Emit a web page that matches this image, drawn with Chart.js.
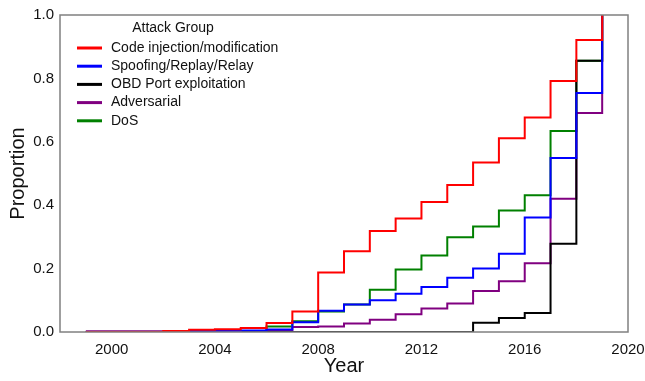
<!DOCTYPE html>
<html>
<head>
<meta charset="utf-8">
<script src="https://cdn.jsdelivr.net/npm/chart.js"></script>
<style>
  body { margin: 0; background: #fff; }
  #wrap { width: 645px; height: 381px; }
</style>
</head>
<body>
<div id="wrap"><canvas id="myChart"></canvas></div>
<script>
// cumulative proportion of attacks per group, by year
var years = [1999, 2000, 2001, 2002, 2003, 2004, 2005, 2006, 2007, 2008, 2009,
  2010, 2011, 2012, 2013, 2014, 2015, 2016, 2017, 2018, 2019];

var codeInjection = [0, 0, 0, 0.003, 0.007, 0.009, 0.013, 0.028, 0.065, 0.188, 0.255,
  0.319, 0.358, 0.410, 0.464, 0.535, 0.611, 0.677, 0.792, 0.921, 1.0];
var spoofing = [0, 0, 0, 0, 0.003, 0.003, 0.005, 0.008, 0.031, 0.067, 0.087,
  0.100, 0.121, 0.142, 0.171, 0.200, 0.247, 0.361, 0.549, 0.754, 1.0];
var obdPort = [0, 0, 0, 0, 0, 0, 0, 0, 0, 0, 0,
  0, 0, 0, 0, 0.029, 0.044, 0.060, 0.278, 0.856, 1.0];
var adversarial = [0.002, 0.002, 0.002, 0.002, 0.002, 0.002, 0.002, 0.005, 0.016, 0.017, 0.027,
  0.039, 0.056, 0.074, 0.090, 0.129, 0.160, 0.217, 0.420, 0.691, 1.0];
var dos = [0, 0, 0, 0, 0, 0, 0, 0.017, 0.034, 0.065, 0.087,
  0.133, 0.197, 0.241, 0.299, 0.333, 0.383, 0.431, 0.634, 0.856, 1.0];

var groupNames = ['Code injection/modification', 'Spoofing/Replay/Relay',
  'OBD Port exploitation', 'Adversarial', 'DoS'];
var groupColors = ['#ff0000', '#0000ff', '#000000', '#800080', '#008000'];
var groupValues = [codeInjection, spoofing, obdPort, adversarial, dos];

var xTicks = [2000, 2004, 2008, 2012, 2016, 2020];
var yTicks = [0, 0.2, 0.4, 0.6, 0.8, 1.0];

Chart.defaults.font.family = "'Liberation Sans', Arial, sans-serif";
Chart.defaults.color = '#111';

function points(values) {
  return years.map(function (y, i) { return { x: y, y: values[i] }; });
}

// frame on all four sides, drawn over the lines like matplotlib spines
var framePlugin = {
  id: 'frame',
  afterDatasetsDraw: function (chart) {
    var a = chart.chartArea, c = chart.ctx;
    c.save();
    c.strokeStyle = '#808080';
    c.lineWidth = 1.5;
    c.strokeRect(a.left, a.top, a.right - a.left, a.bottom - a.top);
    c.restore();
  }
};

// legend inside the plot, top left, with title
var legendPlugin = {
  id: 'insideLegend',
  afterDraw: function (chart) {
    var a = chart.chartArea, c = chart.ctx;
    c.save();
    c.font = "14px 'Liberation Sans', Arial, sans-serif";
    c.fillStyle = '#111';
    c.textBaseline = 'middle';
    c.textAlign = 'center';
    c.fillText('Attack Group', a.left + 113, a.top + 13);
    c.textAlign = 'left';
    chart.data.datasets.forEach(function (ds, i) {
      var y = a.top + 33 + i * 18.2;
      c.strokeStyle = ds.borderColor;
      c.lineWidth = 3;
      c.beginPath();
      c.moveTo(a.left + 17, y);
      c.lineTo(a.left + 42, y);
      c.stroke();
      c.fillText(ds.label, a.left + 51, y);
    });
    c.restore();
  }
};

var ctx = document.getElementById('myChart').getContext('2d');

var myChart = new Chart(ctx, {
  type: 'line',
  data: {
    datasets: groupNames.map(function (name, i) {
      return {
        label: name,
        data: points(groupValues[i]),
        borderColor: groupColors[i],
        backgroundColor: groupColors[i],
        borderWidth: 2,
        pointRadius: 0,
        stepped: true,
        fill: false,
        clip: 0,
      };
    }),
  },
  options: {
    responsive: true,
    maintainAspectRatio: false,
    animation: false,
    layout: { padding: { left: 0, top: 14, right: 17, bottom: 0 } },
    plugins: {
      legend: { display: false },
      tooltip: { enabled: false },
    },
    scales: {
      x: {
        type: 'linear',
        min: 1998,
        max: 2020,
        grid: { display: false, drawTicks: false },
        border: { display: false },
        afterBuildTicks: function (s) { s.ticks = xTicks.map(function (v) { return { value: v }; }); },
        afterFit: function (s) {
          s.height = 49;
          s.paddingLeft = 0;
          s.paddingRight = 0;
        },
        ticks: {
          font: { size: 15 },
          padding: 9,
          maxRotation: 0,
          callback: function (v) { return String(v); },
        },
        title: {
          display: true,
          text: 'Year',
          font: { size: 20 },
          padding: { top: 0, bottom: 3 },
        },
      },
      y: {
        min: 0,
        max: 1,
        grid: { display: false, drawTicks: false },
        border: { display: false },
        afterBuildTicks: function (s) { s.ticks = yTicks.map(function (v) { return { value: v }; }); },
        afterFit: function (s) { s.width = 60; },
        ticks: {
          font: { size: 15 },
          padding: 6,
          callback: function (v) { return v.toFixed(1); },
        },
        title: {
          display: true,
          text: 'Proportion',
          font: { size: 20 },
          padding: { top: 6, bottom: 0 },
        },
      },
    },
  },
  plugins: [framePlugin, legendPlugin],
});
</script>
</body>
</html>
